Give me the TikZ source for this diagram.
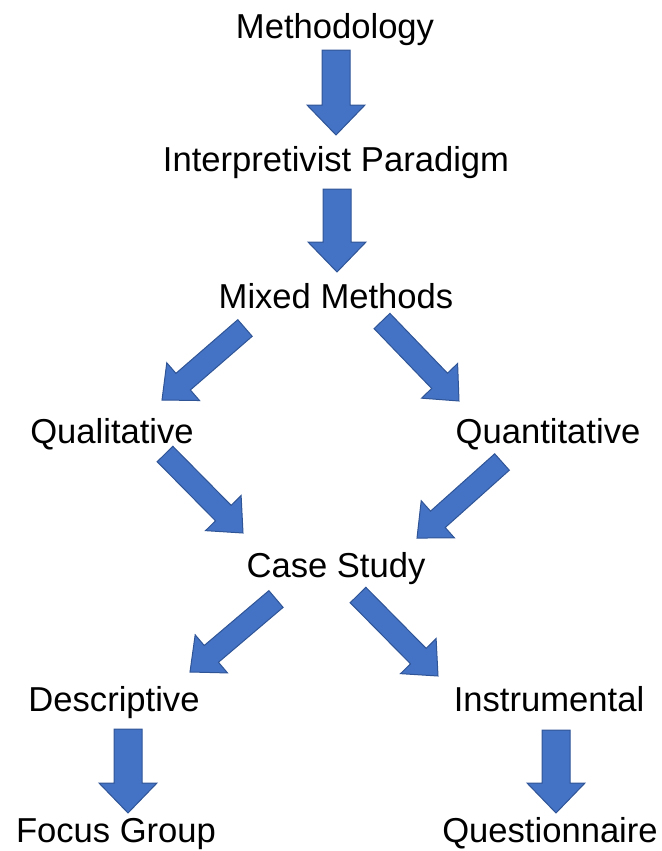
\documentclass[tikz,border=0pt]{standalone}
\usepackage{fontspec}
\setmainfont{Liberation Sans}
\usetikzlibrary{positioning}
\usetikzlibrary{calc}

\definecolor{arrowfill}{HTML}{4472C4}
\definecolor{arrowline}{HTML}{2F5597}

% block arrow from #1 (middle of the tail) to #2 (tip)
\newcommand{\blockarrow}[2]{%
	\coordinate (ba-s) at (#1);
	\coordinate (ba-t) at (#2);
	\coordinate (ba-h) at ($(ba-t)!\headl!(ba-s)$);
	\filldraw[barrow] ($(ba-s)!\shaftw!90:(ba-t)$) -- ($(ba-h)!\shaftw!90:(ba-t)$)
		-- ($(ba-h)!\headw!90:(ba-t)$) -- (ba-t) -- ($(ba-h)!\headw!-90:(ba-t)$)
		-- ($(ba-h)!\shaftw!-90:(ba-t)$) -- ($(ba-s)!\shaftw!-90:(ba-t)$) -- cycle;
}

\begin{document}
\begin{tikzpicture}[x=0.5pt,y=-0.5pt,
		lbl/.style={anchor=base,inner sep=0pt,font=\fontsize{17.3}{20}\selectfont},
		barrow/.style={fill=arrowfill,draw=arrowline,line width=0.5pt,line join=miter}]
		\useasboundingbox (0,0) rectangle (662,851);
		\node[lbl] at (335,39) (meth) {Methodology};
		\node[lbl] at (336,171) (interp) {Interpretivist Paradigm};
		\node[lbl] at (336,308) (mixed) {Mixed Methods};
		\node[lbl] at (112,443) (qual) {Qualitative};
		\node[lbl] at (548,443) (quant) {Quantitative};
		\node[lbl] at (336,577) (case) {Case Study};
		\node[lbl] at (114,711) (desc) {Descriptive};
		\node[lbl] at (549,711) (instr) {Instrumental};
		\node[lbl] at (116,842) (focus) {Focus Group};
		\node[lbl] at (550,842) (quest) {Questionnaire};
		% straight down
		\def\shaftw{7pt}\def\headw{14.5pt}\def\headl{15pt}
		\blockarrow{$(meth.base)+(1,11)$}{$(interp.base)+(0,-36)$}
		\blockarrow{$(interp.base)+(1,18)$}{$(mixed.base)+(1,-36)$}
		\blockarrow{$(desc.base)+(14,18)$}{$(focus.base)+(12,-29)$}
		\blockarrow{$(instr.base)+(7,19)$}{$(quest.base)+(6,-29)$}
		% slanted ones are a bit thinner
		\def\shaftw{5.5pt}\def\headw{12.5pt}\def\headl{14pt}
		\blockarrow{$(mixed.base)+(-91,20)$}{$(qual.base)+(50,-43)$}
		\blockarrow{$(mixed.base)+(46,13)$}{$(quant.base)+(-89,-42)$}
		\blockarrow{$(qual.base)+(53,11)$}{$(case.base)+(-93,-44)$}
		\blockarrow{$(quant.base)+(-46,19)$}{$(case.base)+(81,-39)$}
		\blockarrow{$(case.base)+(-60,22)$}{$(desc.base)+(76,-39)$}
		\blockarrow{$(case.base)+(22,18)$}{$(instr.base)+(-111,-35)$}
	\end{tikzpicture}
\end{document}
